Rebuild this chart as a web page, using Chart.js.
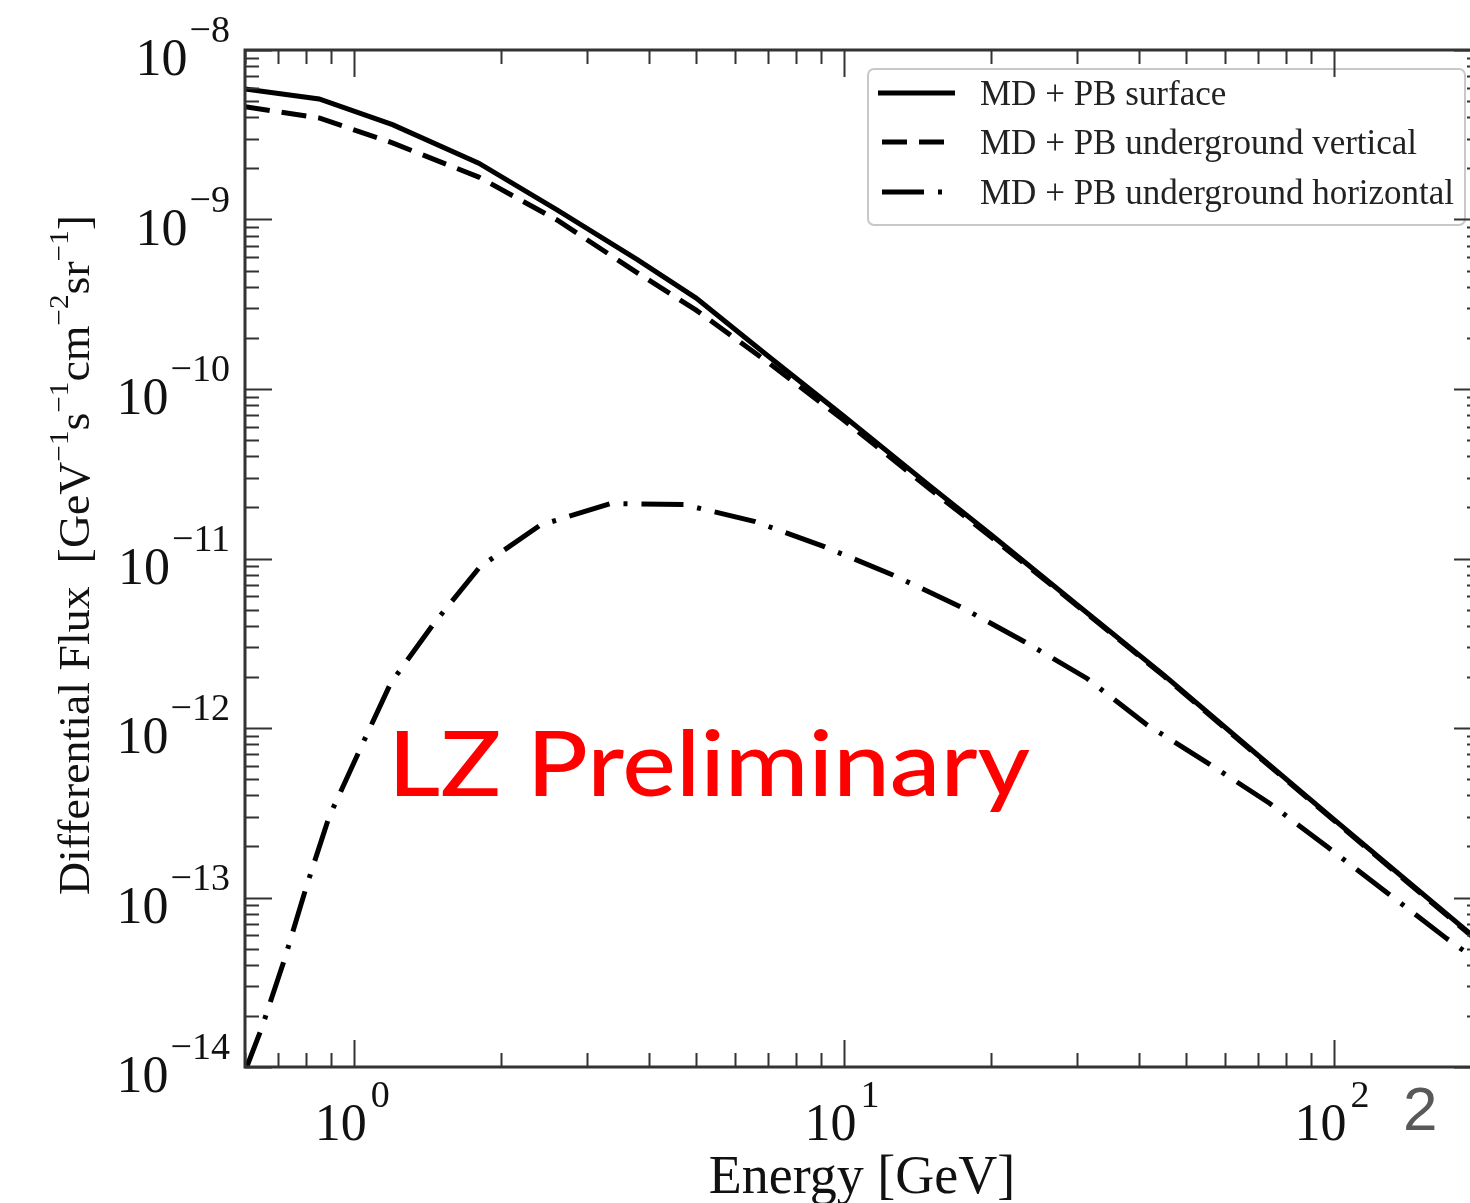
<!DOCTYPE html>
<html>
<head>
<meta charset="utf-8">
<title>Differential flux</title>
<script src="https://cdn.jsdelivr.net/npm/chart.js@4"></script>
<style>
  html, body { margin: 0; padding: 0; background: #fff; overflow: hidden; }
  #wrap { position: relative; width: 1490px; height: 1203px; }
</style>
</head>
<body>
<div id="wrap"><canvas id="chart"></canvas></div>
<script>
// Differential muon flux vs energy (log-log), three MD + PB curves

// Data
const surfaceEnergy = [0.6, 0.85, 1.2, 1.8, 2.6, 3.8, 5, 7, 10, 15, 20, 30, 45, 70, 100, 200];
const surfaceFlux = [5.89e-9, 5.14e-9, 3.63e-9, 2.15e-9, 1.14e-9, 5.77e-10, 3.44e-10, 1.57e-10,
  6.93e-11, 2.68e-11, 1.38e-11, 5.32e-12, 2.06e-12, 6.93e-13, 2.90e-13, 5.40e-14];

const verticalEnergy = [0.6, 0.85, 1.2, 1.8, 2.6, 3.8, 5, 7, 10, 15, 20, 30, 45, 70, 100, 200];
const verticalFlux = [4.63e-9, 3.97e-9, 2.83e-9, 1.78e-9, 9.93e-10, 4.83e-10, 2.92e-10, 1.44e-10,
  6.56e-11, 2.57e-11, 1.34e-11, 5.25e-12, 2.03e-12, 6.84e-13, 2.86e-13, 5.32e-14];

const horizontalEnergy = [0.6, 0.65, 0.725, 0.8, 0.89, 1.03, 1.19, 1.46, 1.81, 2.4, 3.34, 4.72, 6.6,
  9.16, 12.6, 17.3, 23.4, 31.4, 41.7, 55.5, 74, 98, 129, 170, 200];
const horizontalFlux = [9.4e-15, 1.72e-14, 4.46e-14, 1.15e-13, 2.97e-13, 7.48e-13, 1.84e-12, 4.16e-12,
  8.93e-12, 1.57e-11, 2.11e-11, 2.08e-11, 1.65e-11, 1.17e-11, 8.0e-12, 5.2e-12, 3.23e-12, 1.96e-12,
  1.04e-12, 6.19e-13, 3.6e-13, 1.95e-13, 1.06e-13, 5.74e-14, 4.1e-14];

const seriesLabels = ['MD + PB surface', 'MD + PB underground vertical', 'MD + PB underground horizontal'];

// Tick labels (10^exp)
const xTickValues = [1, 10, 100];
const xTickExponents = ['0', '1', '2'];
const yTickValues = [1e-8, 1e-9, 1e-10, 1e-11, 1e-12, 1e-13, 1e-14];
const yTickExponents = ['\u22128', '\u22129', '\u221210', '\u221211', '\u221212', '\u221213', '\u221214'];

const xRange = [0.6, 200];
const yRange = [1e-14, 1e-8];

const SERIF = '"Liberation Serif", "Times New Roman", serif';

function toPoints(xs, ys) {
  return xs.map((x, i) => ({ x, y: ys[i] }));
}

// Minor tick positions for a log axis: 1..9 times each decade
function logTicks(min, max) {
  const out = [];
  for (let e = Math.floor(Math.log10(min)); e <= Math.ceil(Math.log10(max)); e++) {
    for (let m = 1; m <= 9; m++) {
      const v = m * Math.pow(10, e);
      if (v >= min * 0.9999 && v <= max * 1.0001) out.push({ v, major: m === 1 });
    }
  }
  return out;
}

// Legend box drawn before the frame so the top ticks sit over it
const legendBox = {
  id: 'legendBox',
  afterDatasetsDraw(chart) {
    const ctx = chart.ctx;
    ctx.save();
    ctx.beginPath();
    ctx.roundRect(868, 69, 597, 156, 6);
    ctx.fillStyle = '#fff';
    ctx.fill();
    ctx.lineWidth = 2;
    ctx.strokeStyle = '#c8c8c8';
    ctx.stroke();

    const rows = [93, 142, 192];
    chart.data.datasets.forEach((ds, i) => {
      ctx.setLineDash(ds.borderDash || []);
      ctx.lineWidth = ds.borderWidth;
      ctx.strokeStyle = ds.borderColor;
      ctx.lineCap = 'butt';
      ctx.beginPath();
      ctx.moveTo(i === 0 ? 878 : 882, rows[i]);
      ctx.lineTo(i === 0 ? 955 : 946, rows[i]);
      ctx.stroke();
      ctx.setLineDash([]);
      ctx.fillStyle = '#222';
      ctx.font = '35px ' + SERIF;
      ctx.textAlign = 'left';
      ctx.textBaseline = 'alphabetic';
      ctx.fillText(ds.label, 980, rows[i] + 12);
    });
    ctx.restore();
  }
};

const frame = {
  id: 'frame',
  afterDraw(chart) {
    const { ctx, chartArea: a, scales: { x, y } } = chart;
    ctx.save();
    ctx.strokeStyle = '#333';
    ctx.lineWidth = 2;
    ctx.beginPath();
    logTicks(xRange[0], xRange[1]).forEach(t => {
      const px = Math.round(x.getPixelForValue(t.v)) + 0.5;
      const len = t.major ? 27 : 14;
      ctx.moveTo(px, a.bottom); ctx.lineTo(px, a.bottom - len);
      ctx.moveTo(px, a.top); ctx.lineTo(px, a.top + len);
    });
    logTicks(yRange[0], yRange[1]).forEach(t => {
      const py = Math.round(y.getPixelForValue(t.v)) + 0.5;
      const len = t.major ? 27 : 14;
      ctx.moveTo(a.left, py); ctx.lineTo(a.left + len, py);
      ctx.moveTo(a.right, py); ctx.lineTo(a.right - len, py);
    });
    ctx.stroke();

    ctx.lineWidth = 3;
    ctx.strokeRect(a.left, a.top, a.right - a.left, a.bottom - a.top);

    // Tick labels
    ctx.fillStyle = '#111';
    ctx.textBaseline = 'alphabetic';
    yTickValues.forEach((v, i) => {
      const py = y.getPixelForValue(v);
      ctx.font = '38px ' + SERIF;
      const ew = ctx.measureText(yTickExponents[i]).width;
      const ex = 230 - ew;
      ctx.textAlign = 'left';
      ctx.fillText(yTickExponents[i], ex, py - 8);
      ctx.font = '52px ' + SERIF;
      ctx.textAlign = 'right';
      ctx.fillText('10', ex - 2, py + 25);
    });
    xTickValues.forEach((v, i) => {
      const px = x.getPixelForValue(v);
      ctx.font = '52px ' + SERIF;
      ctx.textAlign = 'right';
      ctx.fillText('10', px + 13, 1140);
      ctx.font = '38px ' + SERIF;
      ctx.textAlign = 'left';
      ctx.fillText(xTickExponents[i], px + 17, 1107);
    });

    // Axis titles
    ctx.font = '54px ' + SERIF;
    ctx.textAlign = 'center';
    ctx.fillText('Energy [GeV]', 862, 1193);

    drawYTitle(ctx);

    // Watermark and page number
    ctx.save();
    ctx.font = '500 90px Lato, "Noto Sans", sans-serif';
    ctx.fillStyle = '#ff0000';
    ctx.textAlign = 'left';
    const label = 'LZ Preliminary';
    const w = ctx.measureText(label).width;
    ctx.translate(388, 796);
    ctx.scale(642 / w, 1);
    ctx.fillText(label, 0, 0);
    ctx.restore();

    ctx.font = '62px "Liberation Sans", Arial, sans-serif';
    ctx.fillStyle = '#595959';
    ctx.textAlign = 'left';
    ctx.fillText('2', 1403, 1130);
    ctx.restore();
  }
};

// Rotated y title with superscripts
function drawYTitle(ctx) {
  const parts = [
    ['Differential Flux  [GeV', false], ['\u22121', true], ['s', false], ['\u22121', true],
    ['cm', false], ['\u22122', true], ['sr', false], ['\u22121', true], [']', false]
  ];
  const mainFont = '44px ' + SERIF;
  const supFont = '28px ' + SERIF;
  let total = 0;
  const widths = parts.map(([t, sup]) => {
    ctx.font = sup ? supFont : mainFont;
    const w = ctx.measureText(t).width;
    total += w;
    return w;
  });
  const target = 680;
  ctx.save();
  ctx.translate(89, 555);
  ctx.rotate(-Math.PI / 2);
  ctx.scale(target / total, 1);
  ctx.textAlign = 'left';
  ctx.fillStyle = '#111';
  let cx = -total / 2;
  parts.forEach(([t, sup], i) => {
    ctx.font = sup ? supFont : mainFont;
    ctx.fillText(t, cx, sup ? -21 : 0);
    cx += widths[i];
  });
  ctx.restore();
}

const ctx = document.getElementById('chart').getContext('2d');
new Chart(ctx, {
  type: 'line',
  data: {
    datasets: [{
      label: seriesLabels[0],
      data: toPoints(surfaceEnergy, surfaceFlux),
      borderColor: '#000',
      borderWidth: 5,
      borderDash: [],
      pointRadius: 0,
      tension: 0
    }, {
      label: seriesLabels[1],
      data: toPoints(verticalEnergy, verticalFlux),
      borderColor: '#000',
      borderWidth: 5,
      borderDash: [25, 12],
      pointRadius: 0,
      tension: 0
    }, {
      label: seriesLabels[2],
      data: toPoints(horizontalEnergy, horizontalFlux),
      borderColor: '#000',
      borderWidth: 5,
      borderDash: [42, 14, 4, 14],
      pointRadius: 0,
      tension: 0
    }]
  },
  options: {
    responsive: true,
    maintainAspectRatio: false,
    devicePixelRatio: 1,
    animation: false,
    layout: {
      padding: { left: 245, top: 50, right: 9, bottom: 136 }
    },
    plugins: {
      legend: { display: false },
      tooltip: { enabled: false }
    },
    scales: {
      x: { type: 'logarithmic', min: xRange[0], max: xRange[1], display: false },
      y: { type: 'logarithmic', min: yRange[0], max: yRange[1], display: false }
    }
  },
  plugins: [legendBox, frame]
});
</script>
</body>
</html>
